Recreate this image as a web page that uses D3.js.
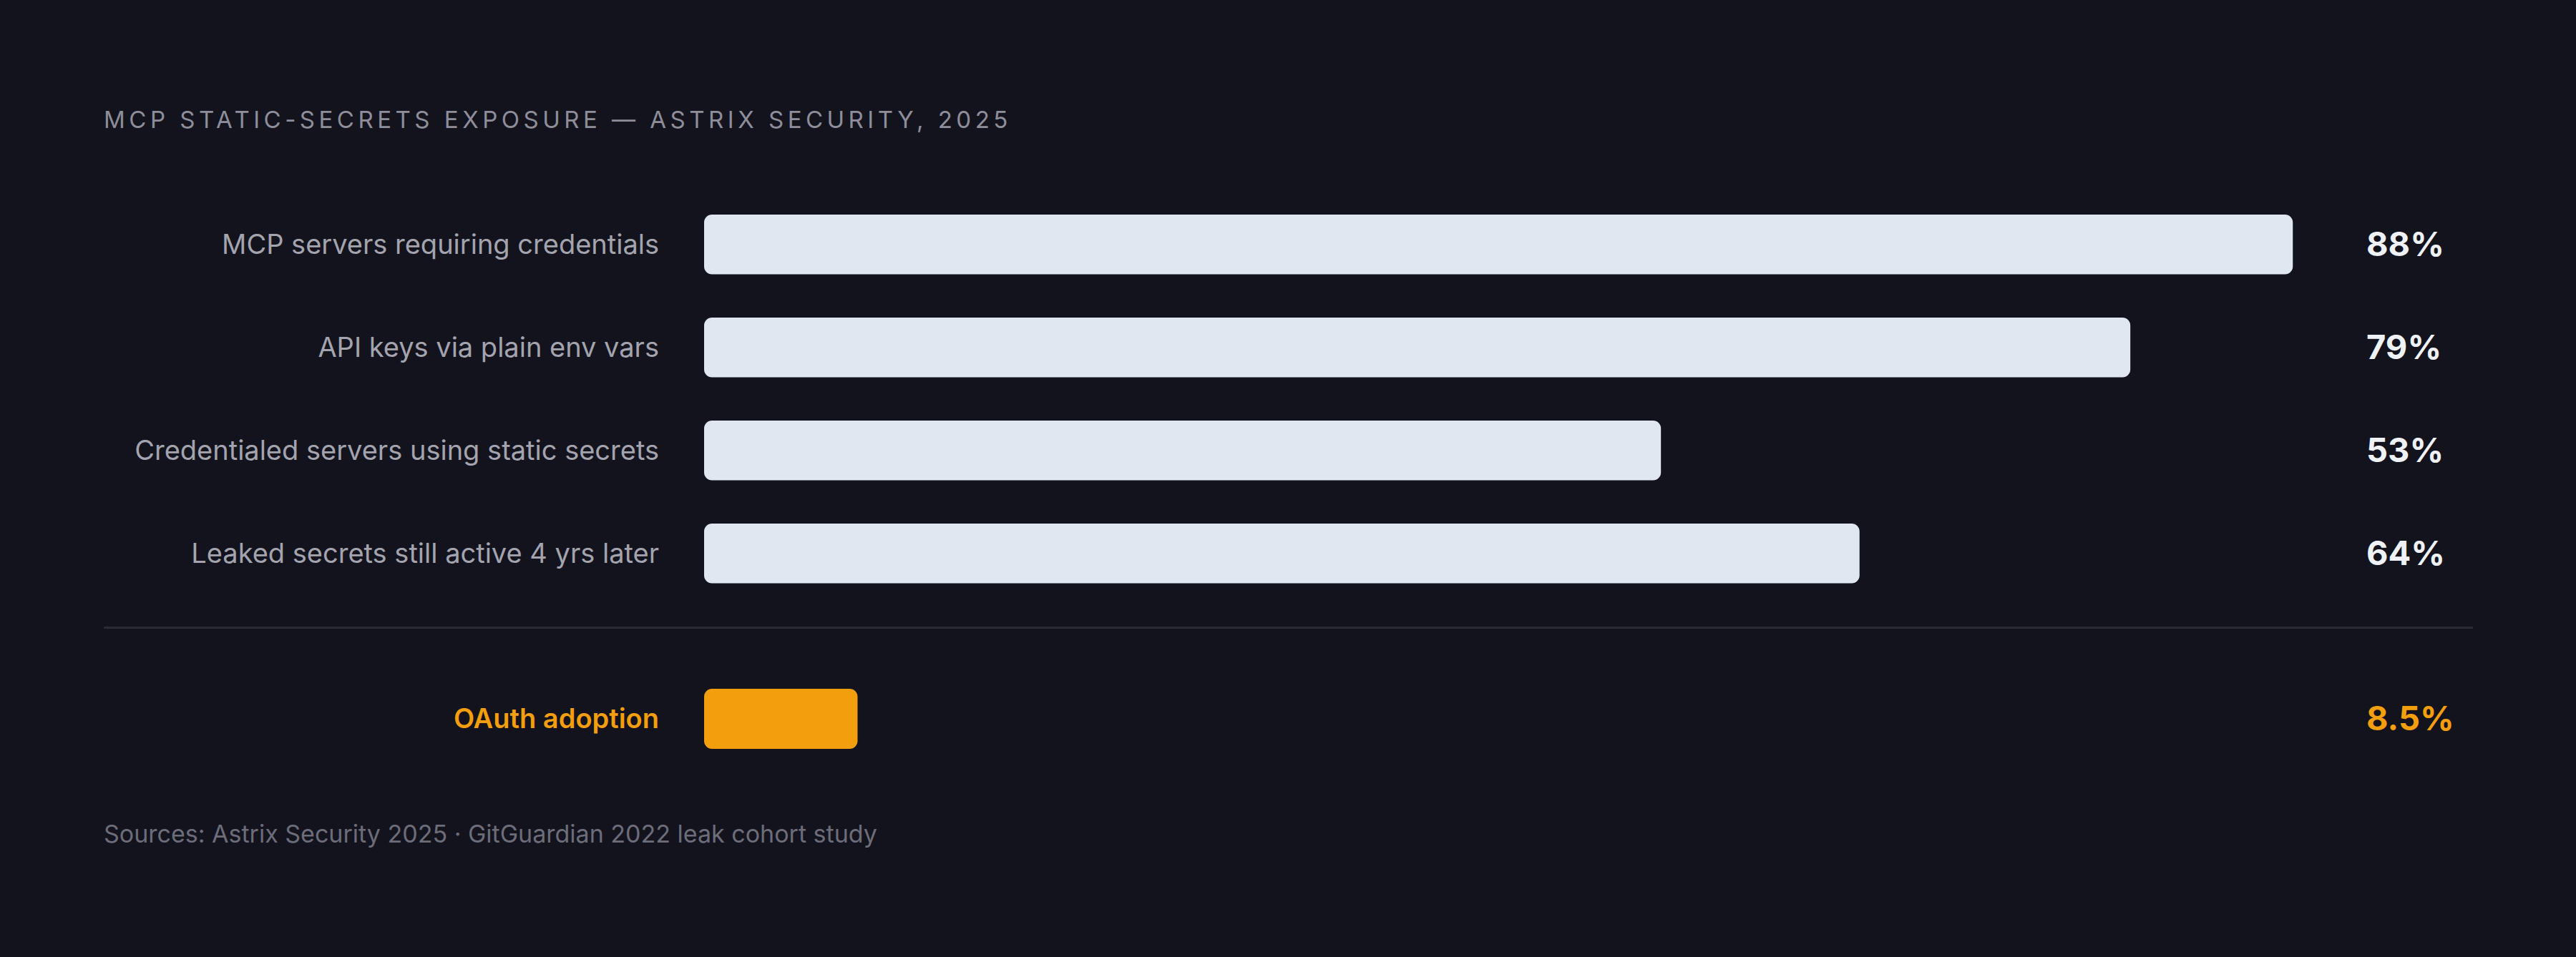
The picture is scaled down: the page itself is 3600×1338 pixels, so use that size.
<!DOCTYPE html>
<html lang="en">
<head>
<meta charset="UTF-8">
<style>
  html, body { margin: 0; padding: 0; background: #13131e; }
  svg { display: block; }
</style>
</head>
<body>
<script src="https://d3js.org/d3.v7.min.js"></script>
<script>
// data
var categories = [
    "MCP servers requiring credentials",
    "API keys via plain env vars",
    "Credentialed servers using static secrets",
    "Leaked secrets still active 4 yrs later"
];
var values = [88, 79, 53, 64];
var valueLabels = ["88%", "79%", "53%", "64%"];

var highlightCategory = ["OAuth adoption"];
var highlightValue = [8.5];
var highlightLabel = ["8.5%"];

var title = "MCP STATIC-SECRETS EXPOSURE — ASTRIX SECURITY, 2025";
var source = "Sources: Astrix Security 2025 · GitGuardian 2022 leak cohort study";

var width = 3600;
var height = 1338;
var font = "Inter, 'Noto Sans', sans-serif";

var svg = d3.select("body")
    .append("svg")
    .attr("width", width)
    .attr("height", height);

svg.append("rect")
    .attr("width", width)
    .attr("height", height)
    .attr("fill", "#13131e");

// scales
var x = d3.scaleLinear().domain([0, 100]).range([984, 3507]);
var y = d3.scaleBand().domain(categories).range([300, 815.5]).paddingInner(0.42).paddingOuter(0);

svg.append("text")
    .attr("x", 145)
    .attr("y", 179)
    .attr("fill", "#8e8e9a")
    .attr("font-family", font)
    .attr("font-size", 33)
    .attr("letter-spacing", "5.5px")
    .text(title);

var rows = svg.selectAll("g.row")
    .data(categories)
    .enter().append("g")
    .attr("class", "row");

rows.append("rect")
    .attr("x", x(0))
    .attr("y", function(d) { return y(d); })
    .attr("width", function(d, i) { return x(values[i]) - x(0); })
    .attr("height", y.bandwidth())
    .attr("rx", 11)
    .attr("fill", "#e1e7f0");

rows.append("text")
    .attr("x", 921)
    .attr("y", function(d) { return y(d) + y.bandwidth() / 2; })
    .attr("dy", "0.35em")
    .attr("text-anchor", "end")
    .attr("fill", "#a3a4ae")
    .attr("font-family", font)
    .attr("font-size", 38)
    .text(function(d) { return d; });

rows.append("text")
    .attr("x", 3307)
    .attr("y", function(d) { return y(d) + y.bandwidth() / 2; })
    .attr("dy", "0.35em")
    .attr("fill", "#eef1f6")
    .attr("font-family", font)
    .attr("font-weight", 700)
    .attr("font-size", 47)
    .text(function(d, i) { return valueLabels[i]; });

// divider
svg.append("line")
    .attr("x1", 145)
    .attr("x2", 3456)
    .attr("y1", 877.5)
    .attr("y2", 877.5)
    .attr("stroke", "#2a2b37")
    .attr("stroke-width", 3);

// highlighted row
var y2 = d3.scaleBand().domain(highlightCategory).range([963, 1047]);

var hl = svg.selectAll("g.hl")
    .data(highlightCategory)
    .enter().append("g")
    .attr("class", "hl");

hl.append("rect")
    .attr("x", x(0))
    .attr("y", function(d) { return y2(d); })
    .attr("width", function(d, i) { return x(highlightValue[i]) - x(0); })
    .attr("height", y2.bandwidth())
    .attr("rx", 11)
    .attr("fill", "#f39e0c");

hl.append("text")
    .attr("x", 921)
    .attr("y", function(d) { return y2(d) + y2.bandwidth() / 2; })
    .attr("dy", "0.35em")
    .attr("text-anchor", "end")
    .attr("fill", "#f39e0c")
    .attr("font-family", font)
    .attr("font-weight", 600)
    .attr("font-size", 38)
    .text(function(d) { return d; });

hl.append("text")
    .attr("x", 3307)
    .attr("y", function(d) { return y2(d) + y2.bandwidth() / 2; })
    .attr("dy", "0.35em")
    .attr("fill", "#f39e0c")
    .attr("font-family", font)
    .attr("font-weight", 700)
    .attr("font-size", 47)
    .text(function(d, i) { return highlightLabel[i]; });

svg.append("text")
    .attr("x", 145)
    .attr("y", 1178)
    .attr("fill", "#6c6d79")
    .attr("font-family", font)
    .attr("font-size", 34)
    .text(source);
</script>
</body>
</html>
